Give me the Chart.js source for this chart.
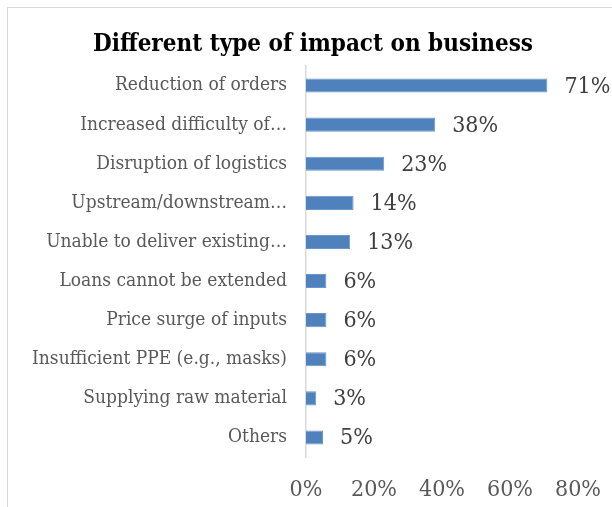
<!DOCTYPE html>
<html>
<head>
<meta charset="utf-8">
<script src="https://cdn.jsdelivr.net/npm/chart.js@4"></script>
<style>
  html, body { margin: 0; padding: 0; background: #fff; overflow: hidden; }
  #wrap { position: relative; width: 612px; height: 507px; overflow: hidden; }
  #frame { position: absolute; left: 7px; top: 7px; right: 0; bottom: 0; border-left: 1.5px solid #d9d9d9; border-top: 1.5px solid #d9d9d9; }
  #wrap canvas { position: absolute; left: 0; top: 0; }
</style>
</head>
<body>
<div id="wrap">
  <div id="frame"></div>
  <canvas id="impact" width="612" height="507"></canvas>
</div>
<script>
// impact categories, top to bottom
const impactLabels = [
    'Reduction of orders',
    'Increased difficulty of…',
    'Disruption of logistics',
    'Upstream/downstream…',
    'Unable to deliver existing…',
    'Loans cannot be extended',
    'Price surge of inputs',
    'Insufficient PPE (e.g., masks)',
    'Supplying raw material',
    'Others'
];
// share of respondents, percent
const impactShare = [71, 38, 23, 14, 13, 6, 6, 6, 3, 5];
const xTicks = [0, 20, 40, 60, 80];

const chartTitle = 'Different type of impact on business';
const serif = '"DejaVu Serif Condensed", "DejaVu Serif", serif';

//Writes the percentage just past the end of each bar, plus the heading
const valueLabels = {
    id: 'valueLabels',
    afterDatasetsDraw(chart) {
        const ctx = chart.ctx;
        const meta = chart.getDatasetMeta(0);
        ctx.save();
        ctx.font = '23px ' + serif;
        ctx.fillStyle = '#404040';
        ctx.textAlign = 'left';
        ctx.textBaseline = 'middle';
        meta.data.forEach((bar, i) => {
            ctx.fillText(impactShare[i] + '%', bar.x + 17, bar.y + 1);
        });

        //heading sits centred over the whole frame, not just the plot
        ctx.font = 'bold 24px ' + serif;
        ctx.fillStyle = '#000';
        ctx.textAlign = 'center';
        ctx.fillText(chartTitle, 313, 45);
        ctx.restore();
    }
};

const context = document.getElementById('impact').getContext('2d');
new Chart(context, {
    type: 'bar',
    data: {
        labels: impactLabels,
        datasets: [{
            data: impactShare,
            backgroundColor: '#4f81bd',
            borderColor: '#6a96cb',
            borderWidth: 1,
            categoryPercentage: 1,
            barPercentage: 0.36
        }]
    },
    options: {
        indexAxis: 'y',
        responsive: false,
        animation: false,
        layout: {padding: {left: 0, right: 34, top: 66, bottom: 5}},
        plugins: {
            legend: {display: false},
            tooltip: {enabled: false},
            title: {display: false}
        },
        scales: {
            x: {
                min: 0,
                max: 80,
                afterBuildTicks: axis => { axis.ticks = xTicks.map(v => ({value: v})); },
                afterFit: axis => {
                    axis.height = 45;
                    axis.paddingLeft = 0;
                    axis.paddingRight = 0;
                },
                grid: {display: false, drawTicks: false},
                border: {display: false},
                ticks: {
                    padding: 19,
                    color: '#595959',
                    font: {family: serif, size: 23},
                    callback: v => v + '%'
                }
            },
            y: {
                afterFit: axis => { axis.width = 306; axis.paddingTop = 0; axis.paddingBottom = 0; },
                grid: {display: false, drawTicks: false},
                border: {display: true, color: '#d9d9d9', width: 1.5},
                ticks: {
                    padding: 19,
                    color: '#595959',
                    font: {family: serif, size: 19}
                }
            }
        }
    },
    plugins: [valueLabels]
});
</script>
</body>
</html>
